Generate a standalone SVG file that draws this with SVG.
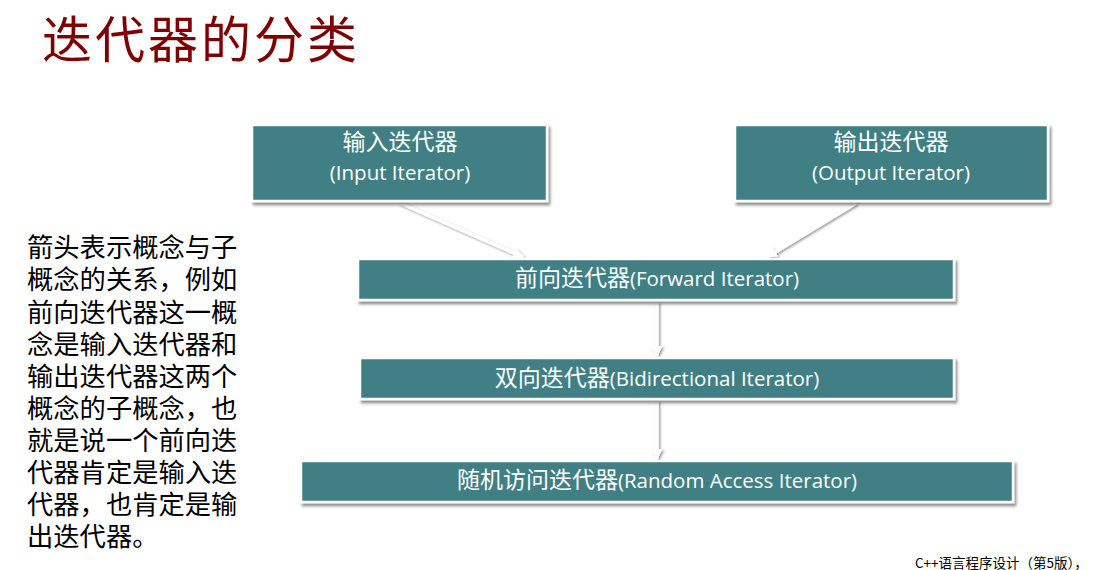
<svg xmlns="http://www.w3.org/2000/svg" width="1102" height="570" viewBox="0 0 1102 570">
<defs>
<filter id="sh" x="-10%" y="-20%" width="120%" height="150%">
<feDropShadow dx="2" dy="3" stdDeviation="1.6" flood-color="#000" flood-opacity="0.45"/>
</filter>
<filter id="lsh" filterUnits="userSpaceOnUse" x="0" y="0" width="1102" height="570">
<feDropShadow dx="1.5" dy="1.5" stdDeviation="1" flood-color="#000" flood-opacity="0.4"/>
</filter>
<marker id="ah" viewBox="0 0 10 10" refX="9" refY="5" markerWidth="3.2" markerHeight="3.2" orient="auto" markerUnits="strokeWidth">
<path d="M0,0 L10,5 L0,10 z" fill="#ffffff"/>
</marker>
</defs>
<style>
.box{fill:#417f83;stroke:#ffffff;stroke-width:2.5;filter:url(#sh)}
.bt{fill:#ffffff;font-family:"Open Sans","Noto Sans CJK SC",sans-serif;font-size:20.5px;text-anchor:middle}
.zh{font-family:"Noto Sans CJK SC",sans-serif;font-size:23px}
.con{stroke:#ffffff;stroke-width:3.5;fill:none;marker-end:url(#ah)}
.para{fill:#000;font-family:"Noto Sans CJK SC",sans-serif;font-size:26.3px}
</style>
<rect width="1102" height="570" fill="#ffffff"/>
<text x="42" y="58" font-family="'Noto Sans CJK SC',sans-serif" font-size="50" letter-spacing="3" fill="#7f0000">迭代器的分类</text>

<g id="connectors" filter="url(#lsh)">
<line class="con" x1="400" y1="203" x2="523" y2="257"/>
<line class="con" x1="856" y1="203" x2="767" y2="257"/>
<line class="con" x1="657" y1="302" x2="657" y2="356"/>
<line class="con" x1="657" y1="401" x2="657" y2="459"/>
</g>

<g id="input">
<rect class="box" x="252" y="125" width="295" height="76"/>
<text class="bt" x="400" y="150"><tspan class="zh">输入迭代器</tspan></text>
<text class="bt" x="400" y="180">(Input Iterator)</text>
</g>
<g id="output">
<rect class="box" x="735" y="125" width="313" height="76"/>
<text class="bt" x="891" y="150"><tspan class="zh">输出迭代器</tspan></text>
<text class="bt" x="891" y="180">(Output Iterator)</text>
</g>
<g id="forward">
<rect class="box" x="358" y="259" width="596" height="41"/>
<text class="bt" x="657" y="286"><tspan class="zh">前向迭代器</tspan>(Forward Iterator)</text>
</g>
<g id="bidirectional">
<rect class="box" x="360" y="358" width="594" height="41"/>
<text class="bt" x="657" y="386"><tspan class="zh">双向迭代器</tspan>(Bidirectional Iterator)</text>
</g>
<g id="random">
<rect class="box" x="301" y="461" width="712" height="41"/>
<text class="bt" x="657" y="488"><tspan class="zh">随机访问迭代器</tspan>(Random Access Iterator)</text>
</g>

<g id="note">
<text class="para"><tspan x="27" y="257">箭头表示概念与子</tspan><tspan x="27" y="289">概念的关系，例如</tspan><tspan x="27" y="322">前向迭代器这一概</tspan><tspan x="27" y="354">念是输入迭代器和</tspan><tspan x="27" y="386">输出迭代器这两个</tspan><tspan x="27" y="418">概念的子概念，也</tspan><tspan x="27" y="450">就是说一个前向迭</tspan><tspan x="27" y="482">代器肯定是输入迭</tspan><tspan x="27" y="514">代器，也肯定是输</tspan><tspan x="27" y="546">出迭代器。</tspan></text>
</g>
<text x="915" y="568" font-family="'Noto Sans CJK SC',sans-serif" font-size="13.5" fill="#000">C++语言程序设计（第5版），</text>
</svg>
